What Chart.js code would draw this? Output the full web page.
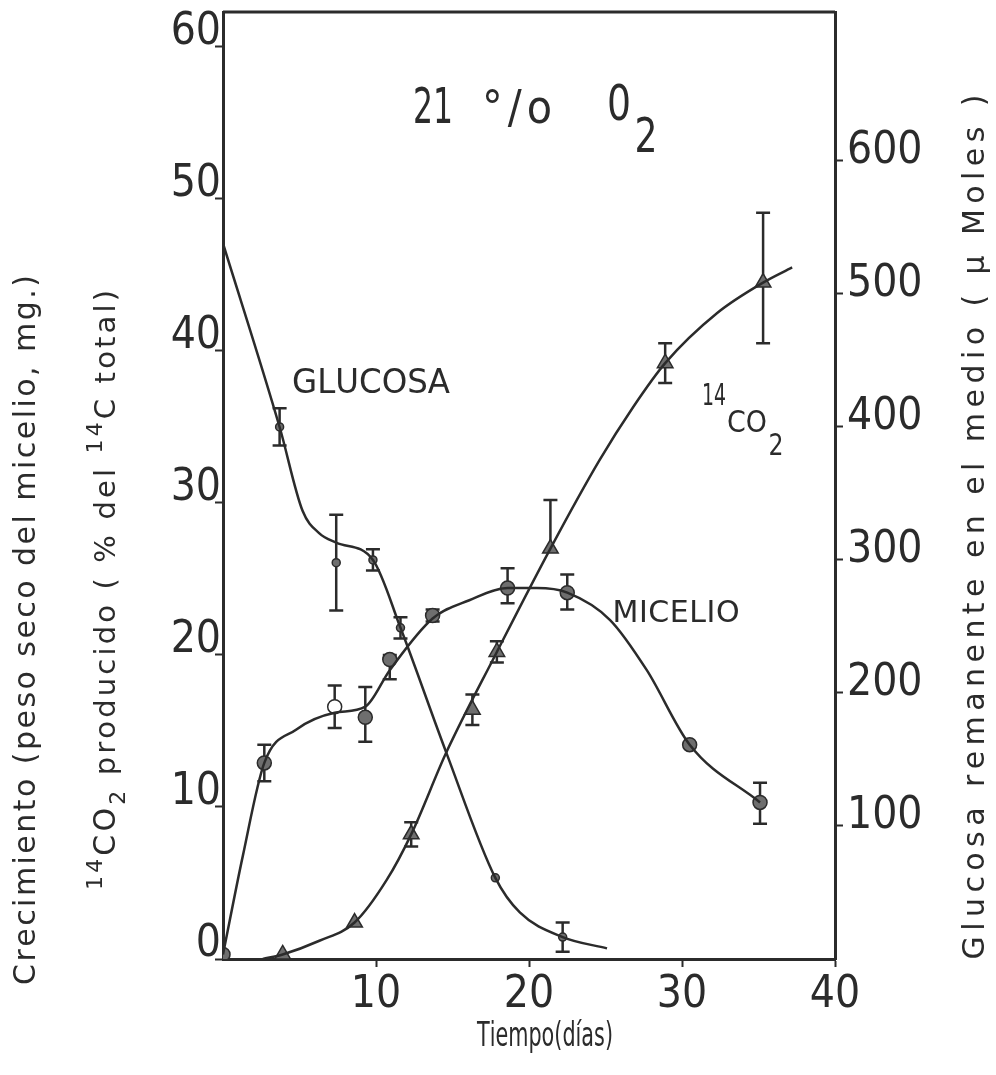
<!DOCTYPE html>
<html>
<head>
<meta charset="utf-8">
<script src="https://cdn.jsdelivr.net/npm/chart.js@4"></script>
<style>
  html, body { margin: 0; padding: 0; background: #fff; }
  #contenedor { width: 996px; height: 1075px; }
</style>
</head>
<body>
<div id="contenedor"><canvas id="grafico"></canvas></div>
<script>
// Marcas de los ejes
const tickEjeX = [10, 20, 30, 40];
const tickIzq = [0, 10, 20, 30, 40, 50, 60];
const tickDer = [100, 200, 300, 400, 500, 600];

// Curvas trazadas a mano (dias, valor)
const diasCurvaGlucosa = [0, 3.7, 5.2, 6.3, 7.4, 9.8, 11.6, 14.6, 17.8, 19.4, 22.2, 25.1];
const curvaGlucosa = [538, 400, 337, 320, 313, 300, 249, 155, 61, 35, 16.5, 8];
const diasCurvaMicelio = [0, 1.3, 2.7, 4.8, 7.3, 9.3, 10.9, 13.7, 16.1, 18.6, 20.5, 22.5, 25.3, 27.7, 30.5, 35.1];
const curvaMicelio = [0.3, 6.8, 12.9, 15.1, 16.2, 16.6, 19.0, 22.4, 23.6, 24.4, 24.4, 24.1, 22.3, 19.0, 14.1, 10.3];
const diasCurvaCO2 = [2.6, 3.9, 6.3, 8.6, 10.7, 12.3, 14.6, 17.9, 21.4, 24.6, 26.8, 28.9, 32.3, 35.3, 37.2];
const curvaCO2 = [0, 0.3, 1.2, 2.4, 5.2, 8.2, 13.6, 20.2, 27.0, 32.8, 36.3, 39.2, 42.5, 44.5, 45.5];

// Puntos medidos y barras de error
const diasGlucosa = [3.7, 7.4, 9.8, 11.6, 17.8, 22.2];
const glucosa = [400, 298, 300, 249, 61, 16.5];
const errGlucosa = [14, 36, 8, 8, 0, 11];
const diasMicelio = [0, 2.7, 7.3, 9.3, 10.9, 13.7, 18.6, 22.5, 30.5, 35.1];
const micelio = [0.3, 12.9, 16.6, 15.9, 19.7, 22.6, 24.4, 24.1, 14.1, 10.3];
const errMicelioArriba = [0, 1.2, 1.4, 2.0, 0.3, 0.4, 1.3, 1.2, 0, 1.3];
const errMicelioAbajo = [0, 1.2, 1.4, 1.6, 1.3, 0.4, 1.0, 1.1, 0, 1.4];
const diasCO2 = [3.9, 8.6, 12.3, 16.3, 17.9, 21.4, 28.9, 35.3];
const co2 = [0.3, 2.4, 8.2, 16.4, 20.2, 27.0, 39.2, 44.5];
const errCO2Arriba = [0, 0, 0.8, 1.0, 0.7, 3.2, 1.3, 4.6];
const errCO2Abajo = [0, 0, 0.8, 1.0, 0.7, 0, 1.3, 4.0];

const tinta = '#2b2b2b';
const gris = '#6e6e6e';
const fuenteNum = "'DejaVu Sans Condensed', 'DejaVu Sans', sans-serif";
const fuenteTexto = "'DejaVu Sans', sans-serif";

const pares = (xs, ys) => xs.map((x, i) => ({ x: x, y: ys[i] }));

// Texto ajustado a un largo dado: separa las letras o las estrecha
function textoEspaciado(ctx, partes, cx, cy, largo, giro, familia) {
  ctx.save();
  ctx.translate(cx, cy);
  ctx.rotate(giro);
  ctx.fillStyle = tinta;
  ctx.textBaseline = 'alphabetic';
  ctx.textAlign = 'left';
  let natural = 0, n = 0;
  partes.forEach(p => {
    ctx.font = p[1] + 'px ' + familia;
    for (const ch of p[0]) { natural += ctx.measureText(ch).width; n++; }
  });
  let extra = 0, escalaX = 1;
  if (natural > largo) escalaX = largo / natural;
  else if (n > 1) extra = (largo - natural) / (n - 1);
  ctx.scale(escalaX, 1);
  let x = -largo / 2 / escalaX;
  partes.forEach(p => {
    ctx.font = p[1] + 'px ' + familia;
    for (const ch of p[0]) {
      ctx.fillText(ch, x, p[2]);
      x += ctx.measureText(ch).width + extra;
    }
  });
  ctx.restore();
}

// Barras de error de los puntos medidos
const barrasError = {
  id: 'barrasError',
  beforeDatasetsDraw(chart) {
    const ctx = chart.ctx;
    chart.data.datasets.forEach((ds, i) => {
      if (!ds.errArriba) return;
      const meta = chart.getDatasetMeta(i);
      const escala = chart.scales[ds.yAxisID];
      ctx.save();
      ctx.strokeStyle = tinta;
      ctx.lineWidth = 2.5;
      meta.data.forEach((pt, j) => {
        const v = ds.data[j].y;
        const up = ds.errArriba[j], down = ds.errAbajo[j];
        if (!up && !down) return;
        const y1 = escala.getPixelForValue(v + up);
        const y2 = escala.getPixelForValue(v - down);
        ctx.beginPath();
        ctx.moveTo(pt.x, y1);
        ctx.lineTo(pt.x, y2);
        if (up) { ctx.moveTo(pt.x - 7, y1); ctx.lineTo(pt.x + 7, y1); }
        if (down) { ctx.moveTo(pt.x - 7, y2); ctx.lineTo(pt.x + 7, y2); }
        ctx.stroke();
      });
      ctx.restore();
    });
  }
};

// Marco superior, rotulos y titulos de los ejes
const rotulos = {
  id: 'rotulos',
  afterDraw(chart) {
    const ctx = chart.ctx;
    const a = chart.chartArea;
    ctx.save();
    ctx.strokeStyle = tinta;
    ctx.lineWidth = 3;
    ctx.beginPath();
    ctx.moveTo(a.left, a.top);
    ctx.lineTo(a.right, a.top);
    ctx.stroke();
    ctx.restore();

    // 21 °/o O2
    textoEspaciado(ctx, [['21', 50, 0]], 433, 123, 40, 0, fuenteNum);
    textoEspaciado(ctx, [['°/o', 46, 0]], 517, 123, 70, 0, fuenteNum);
    textoEspaciado(ctx, [['0', 50, 0]], 619, 120, 24, 0, fuenteNum);
    textoEspaciado(ctx, [['2', 48, 0]], 646, 152, 23, 0, fuenteNum);

    textoEspaciado(ctx, [['GLUCOSA', 33, 0]], 371, 393, 158, 0, fuenteTexto);
    textoEspaciado(ctx, [['MICELIO', 30, 0]], 676, 622, 127, 0, fuenteTexto);
    textoEspaciado(ctx, [['14', 30, 0]], 714, 405, 24, 0, fuenteNum);
    textoEspaciado(ctx, [['CO', 30, 0]], 747, 432, 40, 0, fuenteTexto);
    textoEspaciado(ctx, [['2', 30, 0]], 776, 455, 15, 0, fuenteNum);

    // titulos
    textoEspaciado(ctx, [['Crecimiento (peso seco del micelio, mg.)', 30, 0]], 35, 630, 710, -Math.PI / 2, fuenteTexto);
    textoEspaciado(ctx, [['14', 22, -13], ['CO', 30, 0], ['2', 22, 10], [' producido ( % del ', 29, 0], ['14', 22, -13], ['C total)', 29, 0]], 115, 590, 600, -Math.PI / 2, fuenteTexto);
    textoEspaciado(ctx, [['Glucosa remanente en el medio ( µ Moles )', 30, 0]], 984, 527, 865, -Math.PI / 2, fuenteTexto);
    textoEspaciado(ctx, [['Tiempo(días)', 33, 0]], 545, 1046, 136, 0, fuenteTexto);
  }
};

const curva = (datos, eje) => ({
  data: datos, yAxisID: eje, borderColor: tinta, borderWidth: 2.5,
  pointRadius: 0, cubicInterpolationMode: 'monotone', fill: false
});
const puntos = (datos, eje, estilo, radio, relleno, arriba, abajo) => ({
  data: datos, yAxisID: eje, showLine: false, pointStyle: estilo, pointRadius: radio,
  pointBackgroundColor: relleno, pointBorderColor: tinta, pointBorderWidth: 1.5,
  errArriba: arriba, errAbajo: abajo
});

const rellenoMicelio = diasMicelio.map((d, i) => i === 2 ? '#ffffff' : gris);

const ctx = document.getElementById('grafico').getContext('2d');
const grafico = new Chart(ctx, {
  type: 'line',
  data: {
    datasets: [
      curva(pares(diasCurvaGlucosa, curvaGlucosa), 'y2'),
      curva(pares(diasCurvaMicelio, curvaMicelio), 'y'),
      curva(pares(diasCurvaCO2, curvaCO2), 'y'),
      puntos(pares(diasGlucosa, glucosa), 'y2', 'circle', 4, gris, errGlucosa, errGlucosa),
      puntos(pares(diasMicelio, micelio), 'y', 'circle', 7, rellenoMicelio, errMicelioArriba, errMicelioAbajo),
      puntos(pares(diasCO2, co2), 'y', 'triangle', 9, gris, errCO2Arriba, errCO2Abajo)
    ]
  },
  options: {
    responsive: true,
    maintainAspectRatio: false,
    animation: false,
    layout: { padding: { top: 12, left: 0, right: 0, bottom: 0 } },
    plugins: { legend: { display: false }, tooltip: { enabled: false } },
    scales: {
      x: {
        type: 'linear', min: 0, max: 40,
        afterBuildTicks: s => { s.ticks = tickEjeX.map(v => ({ value: v })); },
        afterFit: s => { s.height = 116; s.paddingLeft = 0; s.paddingRight = 0; },
        grid: { drawOnChartArea: false, tickLength: 8, tickWidth: 2, tickColor: tinta },
        border: { color: tinta, width: 3 },
        ticks: { font: { family: fuenteNum, size: 44 }, color: tinta, padding: 2, maxRotation: 0, autoSkip: false }
      },
      y: {
        type: 'linear', position: 'left', min: 0, max: 62.3,
        afterBuildTicks: s => { s.ticks = tickIzq.map(v => ({ value: v })); },
        afterFit: s => { s.width = 223; s.paddingTop = 0; s.paddingBottom = 0; },
        grid: { drawOnChartArea: false, tickLength: 8, tickWidth: 2, tickColor: tinta },
        border: { color: tinta, width: 3 },
        ticks: { font: { family: fuenteNum, size: 44 }, color: tinta, padding: -6, labelOffset: -14 }
      },
      y2: {
        type: 'linear', position: 'right', min: 0, max: 712,
        afterBuildTicks: s => { s.ticks = tickDer.map(v => ({ value: v })); },
        afterFit: s => { s.width = 161; s.paddingTop = 0; s.paddingBottom = 0; },
        grid: { drawOnChartArea: false, tickLength: 8, tickWidth: 2, tickColor: tinta },
        border: { color: tinta, width: 3 },
        ticks: { font: { family: fuenteNum, size: 44 }, color: tinta, padding: 4, labelOffset: -9 }
      }
    }
  },
  plugins: [barrasError, rotulos]
});
</script>
</body>
</html>
